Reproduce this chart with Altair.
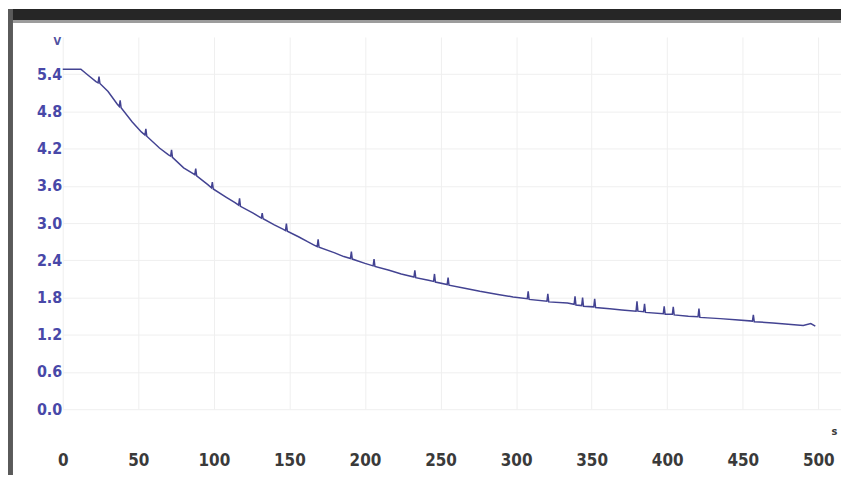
import altair as alt
import pandas as pd

# Time (s) and voltage (V) (narrow spikes included)
T = [0, 12, 16, 22, 23.4, 24, 24.6, 30, 36, 37.4, 38, 38.6, 46, 52, 54.4, 55, 55.6,
     64, 70, 71.4, 72, 72.6, 80, 86, 87.4, 88, 88.6, 96, 98.4, 99, 99.6, 108, 114,
     116.4, 117, 117.6, 126, 131.4, 132, 132.6, 140, 146, 147.4, 148, 148.6, 156, 162,
     166, 168.4, 169, 169.6, 180, 186, 190.4, 191, 191.6, 200, 205.4, 206, 206.6, 216,
     224, 232.4, 233, 233.6, 242, 245.4, 246, 246.6, 254.4, 255, 255.6, 266, 276, 288,
     298, 307.4, 308, 308.6, 320.4, 321, 321.6, 334, 338.4, 339, 339.6, 343.4, 344,
     344.6, 351.4, 352, 352.6, 362, 370, 379.4, 380, 380.6, 384.4, 385, 385.6, 397.4,
     398, 398.6, 403.4, 404, 404.6, 414, 420.4, 421, 421.6, 435, 445, 456.4, 457, 457.6,
     470, 480, 490, 495, 498]
V = [5.48, 5.48, 5.40, 5.28, 5.26, 5.36, 5.25, 5.12, 4.92, 4.88, 4.98, 4.86, 4.63, 4.47,
     4.42, 4.52, 4.40, 4.21, 4.10, 4.08, 4.18, 4.06, 3.89, 3.80, 3.78, 3.88, 3.76, 3.62,
     3.57, 3.66, 3.55, 3.42, 3.33, 3.29, 3.40, 3.27, 3.16, 3.08, 3.16, 3.07, 2.97, 2.90,
     2.88, 2.99, 2.87, 2.78, 2.70, 2.65, 2.62, 2.74, 2.61, 2.52, 2.46, 2.43, 2.54, 2.42,
     2.35, 2.31, 2.42, 2.30, 2.24, 2.18, 2.13, 2.24, 2.12, 2.08, 2.06, 2.18, 2.05, 2.01,
     2.12, 2.00, 1.95, 1.90, 1.85, 1.81, 1.78, 1.90, 1.77, 1.74, 1.86, 1.73, 1.71, 1.69,
     1.82, 1.68, 1.67, 1.80, 1.66, 1.65, 1.78, 1.64, 1.62, 1.60, 1.58, 1.74, 1.58, 1.57,
     1.70, 1.56, 1.54, 1.66, 1.53, 1.53, 1.65, 1.52, 1.50, 1.49, 1.62, 1.48, 1.46, 1.44,
     1.42, 1.52, 1.41, 1.39, 1.37, 1.35, 1.38, 1.34]

X_TICKS = [0, 50, 100, 150, 200, 250, 300, 350, 400, 450, 500]
Y_TICKS = [0.0, 0.6, 1.2, 1.8, 2.4, 3.0, 3.6, 4.2, 4.8, 5.4]

FONT = "DejaVu Sans Condensed, DejaVu Sans"

df = pd.DataFrame({"t": T, "v": V})

line = alt.Chart(df).mark_line(color="#434392", strokeWidth=1.5, clip=False).encode(
    x=alt.X(
        "t:Q",
        scale=alt.Scale(domain=[0, 515], nice=False, zero=False),
        axis=alt.Axis(
            values=X_TICKS, format="d", title="s", titleX=775, titleY=22,
            titleAngle=0, titleAlign="center", titleBaseline="middle",
            titleFontSize=11, titleFont=FONT, titleFontWeight="bold",
            titleColor="#3a3a3a",
            labelFont=FONT, labelFontWeight="bold", labelFontSize=17,
            labelColor="#3a3a3a", labelPadding=44, labelBaseline="top",
            labelOverlap=False, labelFlush=False,
            ticks=False, domain=False, grid=True, gridColor="#efefef",
            gridWidth=1,
        ),
    ),
    y=alt.Y(
        "v:Q",
        scale=alt.Scale(domain=[0, 6], nice=False, zero=False),
        axis=alt.Axis(
            values=Y_TICKS, format=".1f", title="V", titleX=-6, titleY=5,
            titleAngle=0, titleAlign="center", titleBaseline="middle",
            titleFontSize=11, titleFont=FONT, titleFontWeight="bold",
            titleColor="#5050a0",
            labelFont=FONT, labelFontWeight="bold", labelFontSize=16,
            labelColor="#4848a8", labelPadding=1, labelOverlap=False,
            labelFlush=False,
            ticks=False, domain=False, grid=True, gridColor="#efefef",
            gridWidth=1,
        ),
    ),
)

frame_data = alt.Data(values=[{"k": 1}])
top_bar = alt.Chart(frame_data).mark_rect(color="#262626").encode(
    x=alt.value(-55), x2=alt.value(782), y=alt.value(-28), y2=alt.value(-17)
)
top_line = alt.Chart(frame_data).mark_rect(color="#9c9c9c").encode(
    x=alt.value(-50), x2=alt.value(782), y=alt.value(-17), y2=alt.value(-14)
)
left_bar = alt.Chart(frame_data).mark_rect(color="#5a5a5a").encode(
    x=alt.value(-55), x2=alt.value(-50), y=alt.value(-28), y2=alt.value(440)
)

chart = alt.layer(line, top_bar, top_line, left_bar).properties(
    width=782,
    height=374,
    padding={"left": 55, "top": 28, "right": 0, "bottom": 66},
    autosize=alt.AutoSizeParams(type="none"),
    background="white",
).configure_view(stroke=None)

chart.save("out.html", embed_options={"renderer": "svg", "actions": False})
